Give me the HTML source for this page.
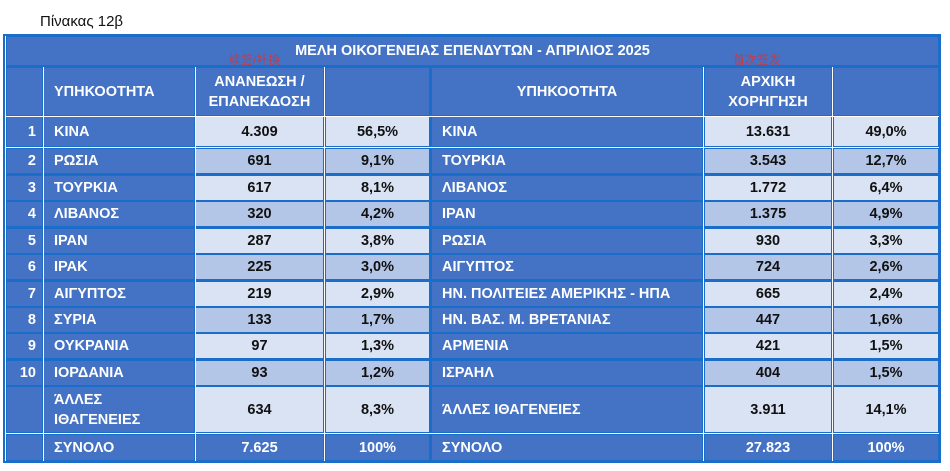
<!DOCTYPE html>
<html><head><meta charset="utf-8"><style>
body{margin:0;width:950px;height:471px;background:#fff;position:relative;overflow:hidden;font-family:"Liberation Sans","DejaVu Sans",sans-serif}
.c{position:absolute;background:#4472c4;color:#fff;font-weight:bold;font-size:14.5px;display:flex;align-items:center;box-sizing:border-box;line-height:20px}
.l{background:#dae3f3;color:#111;justify-content:center}
.d{background:#b4c6e7;color:#111;justify-content:center}
.ctr{justify-content:center;text-align:center}
.num{justify-content:flex-end;padding-right:6px}
.nm{padding-left:10px}
.v{position:absolute;background:#fff;width:1px}
</style></head><body>
<div style="position:absolute;left:40px;top:13px;font-size:15px;color:#111">Πίνακας 12β</div>
<div style="position:absolute;left:3px;top:34px;width:938px;height:429px;background:#1b6dca"></div>
<div style="position:absolute;left:5px;top:36px;width:1px;height:425px;background:#fff"></div>
<div class="c ctr" style="left:7px;top:37px;width:931px;height:28px;font-size:14.5px">ΜΕΛΗ ΟΙΚΟΓΕΝΕΙΑΣ ΕΠΕΝΔΥΤΩΝ - ΑΠΡΙΛΙΟΣ 2025</div>
<div id="g"></div>
<div style="position:absolute;left:229px;top:51px;color:#e03030;font-size:12px;opacity:.8">续签/补换</div>
<div style="position:absolute;left:733px;top:51px;color:#e03030;font-size:12px;opacity:.8">首次签发</div>
<script>
const X=[[7,42],[44,194],[196,323],[326,429],[432,702],[705,831],[834,938]];
const rows=[
["1","ΚΙΝΑ","4.309","56,5%","ΚΙΝΑ","13.631","49,0%"],
["2","ΡΩΣΙΑ","691","9,1%","ΤΟΥΡΚΙΑ","3.543","12,7%"],
["3","ΤΟΥΡΚΙΑ","617","8,1%","ΛΙΒΑΝΟΣ","1.772","6,4%"],
["4","ΛΙΒΑΝΟΣ","320","4,2%","ΙΡΑΝ","1.375","4,9%"],
["5","ΙΡΑΝ","287","3,8%","ΡΩΣΙΑ","930","3,3%"],
["6","ΙΡΑΚ","225","3,0%","ΑΙΓΥΠΤΟΣ","724","2,6%"],
["7","ΑΙΓΥΠΤΟΣ","219","2,9%","ΗΝ. ΠΟΛΙΤΕΙΕΣ ΑΜΕΡΙΚΗΣ - ΗΠΑ","665","2,4%"],
["8","ΣΥΡΙΑ","133","1,7%","ΗΝ. ΒΑΣ. Μ. ΒΡΕΤΑΝΙΑΣ","447","1,6%"],
["9","ΟΥΚΡΑΝΙΑ","97","1,3%","ΑΡΜΕΝΙΑ","421","1,5%"],
["10","ΙΟΡΔΑΝΙΑ","93","1,2%","ΙΣΡΑΗΛ","404","1,5%"],
["","ΆΛΛΕΣ<br>ΙΘΑΓΕΝΕΙΕΣ","634","8,3%","ΆΛΛΕΣ ΙΘΑΓΕΝΕΙΕΣ","3.911","14,1%"],
["","ΣΥΝΟΛΟ","7.625","100%","ΣΥΝΟΛΟ","27.823","100%"]];
const T=[[117,29],[149,24],[176,24],[202,24],[229,24],[255,24],[282,24],[308,24],[334,24],[361,24],[387,45],[435,25]];
let h='';
function cell(i,top,hh,cls,txt){h+=`<div class="c ${cls}" style="left:${X[i][0]}px;top:${top}px;width:${X[i][1]-X[i][0]}px;height:${hh}px">${txt}</div>`;}
const hd=["","ΥΠΗΚΟΟΤΗΤΑ","ΑΝΑΝΕΩΣΗ /<br>ΕΠΑΝΕΚΔΟΣΗ","","ΥΠΗΚΟΟΤΗΤΑ","ΑΡΧΙΚΗ<br>ΧΟΡΗΓΗΣΗ",""];
hd.forEach((t,i)=>cell(i,68,47,i==1?'nm':'ctr',t));
rows.forEach((r,k)=>{const[tp,hh]=T[k];const last=k==11;
 r.forEach((t,i)=>{let cls;
  if(i==0)cls='num';else if(i==1||i==4)cls='nm';
  else cls=last?'ctr':(k%2==0?'l':'d');
  cell(i,tp,hh,cls,t);});});
[43,195,324,703,832].forEach(x=>{h+=`<div class="v" style="left:${x}px;top:67px;height:394px"></div>`;});
[116,147,433].forEach(y=>{h+=`<div style="position:absolute;left:6px;top:${y}px;width:933px;height:1px;background:#fff"></div>`;});
document.getElementById('g').innerHTML=h;
</script>
</body></html>
